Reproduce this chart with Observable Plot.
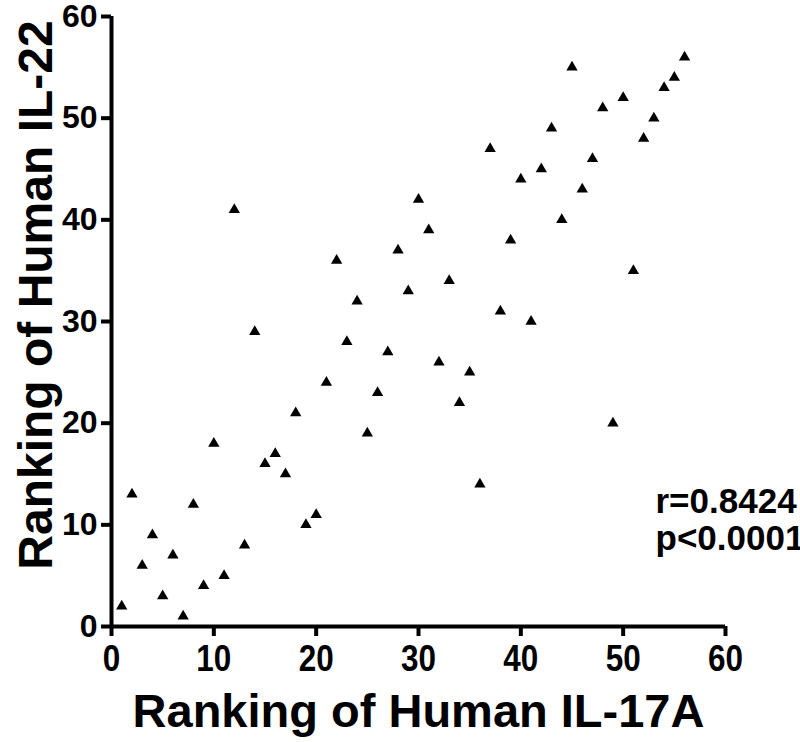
<!DOCTYPE html>
<html>
<head>
<meta charset="utf-8">
<script src="https://cdn.jsdelivr.net/npm/d3@7"></script>
<script src="https://cdn.jsdelivr.net/npm/@observablehq/plot@0.6"></script>
<style>
  html, body { margin: 0; padding: 0; background: #fff; overflow: hidden; }
  #chart svg { display: block; }
</style>
</head>
<body>
<div id="chart"></div>
<script>
// Ranking of Human IL-17A (x) vs Ranking of Human IL-22 (y)
const il17aRank = [1,2,3,4,5,6,7,8,9,10,11,12,13,14,15,16,17,18,19,20,21,22,23,24,25,26,27,28,
  29,30,31,32,33,34,35,36,37,38,39,40,41,42,43,44,45,46,47,48,49,50,51,52,53,54,55,56];
const il22Rank = [2,13,6,9,3,7,1,12,4,18,5,41,8,29,16,17,15,21,10,11,24,36,28,32,19,23,27,37,
  33,42,39,26,34,22,25,14,47,31,38,44,30,45,49,40,55,43,46,51,20,52,35,48,50,53,54,56];
const axisTicks = [0,10,20,30,40,50,60];
const xTitle = "Ranking of Human IL-17A";
const yTitle = "Ranking of Human IL-22";
const statsText = ["r=0.8424", "p<0.0001"];

const points = il17aRank.map((x, i) => ({x, y: il22Rank[i]}));
const font = "'Liberation Sans', Arial, Helvetica, sans-serif";

const W = 800, H = 742, mL = 111, mR = 75, mT = 16, mB = 116;

const chart = Plot.plot({
  width: W,
  height: H,
  marginLeft: mL,
  marginRight: mR,
  marginTop: mT,
  marginBottom: mB,
  style: {fontFamily: font, fontWeight: "bold", color: "#000", background: "#fff", overflow: "visible"},
  x: {domain: [0, 60], label: null},
  y: {domain: [0, 60], label: null},
  marks: [
    Plot.ruleX([0], {stroke: "#000", strokeWidth: 4, y1: 0, y2: 60}),
    Plot.ruleY([0], {stroke: "#000", strokeWidth: 4, x1: 0, x2: 60}),
    Plot.axisX({ticks: axisTicks, tickSize: 10, tickPadding: 8, strokeWidth: 4, fontSize: 37,
      fontWeight: "bold", label: null, tickFormat: d => String(d)}),
    Plot.axisY({ticks: axisTicks, tickSize: 10, tickPadding: 4, strokeWidth: 4, fontSize: 32,
      fontWeight: "bold", label: null, tickFormat: d => String(d)}),
    Plot.dot(points, {x: "x", y: "y", symbol: "triangle", r: 4.2, fill: "#000", stroke: "none"}),
    Plot.text([xTitle], {frameAnchor: "bottom", dy: 85, fontSize: 47, fontWeight: "bold",
      fill: "#000", lineAnchor: "middle", textAnchor: "middle"}),
    Plot.text([yTitle], {frameAnchor: "left", rotate: -90, fontSize: 48, textAnchor: "middle",
      fontWeight: "bold", fill: "#000", lineAnchor: "middle"}),
    Plot.text([statsText.join("\n")], {frameAnchor: "right", dx: -70, dy: 166, textAnchor: "start",
      lineAnchor: "top", lineHeight: 1.04, fontSize: 35, fontWeight: "bold", fill: "#000"})
  ]
});

// x tick labels are drawn taller than wide in the reference
d3.select(chart).selectAll("g[aria-label='x-axis tick label'] text").each(function() {
  const t = this.getAttribute("transform") || "";
  this.setAttribute("transform", t + " scale(0.85,1)");
});

// place the rotated y-axis title left of the tick labels
d3.select(chart).selectAll("text").filter(function() { return this.textContent === yTitle; })
  .each(function() {
    const g = this.parentNode;
    if (g && g.removeAttribute) g.removeAttribute("transform");
    const cx = mL - 74;
    const cy = (mT + H - mB) / 2 - 26;
    this.setAttribute("text-anchor", "middle");
    this.setAttribute("transform", `translate(${cx},${cy}) rotate(-90)`);
  });

document.getElementById("chart").appendChild(chart);
</script>
</body>
</html>
